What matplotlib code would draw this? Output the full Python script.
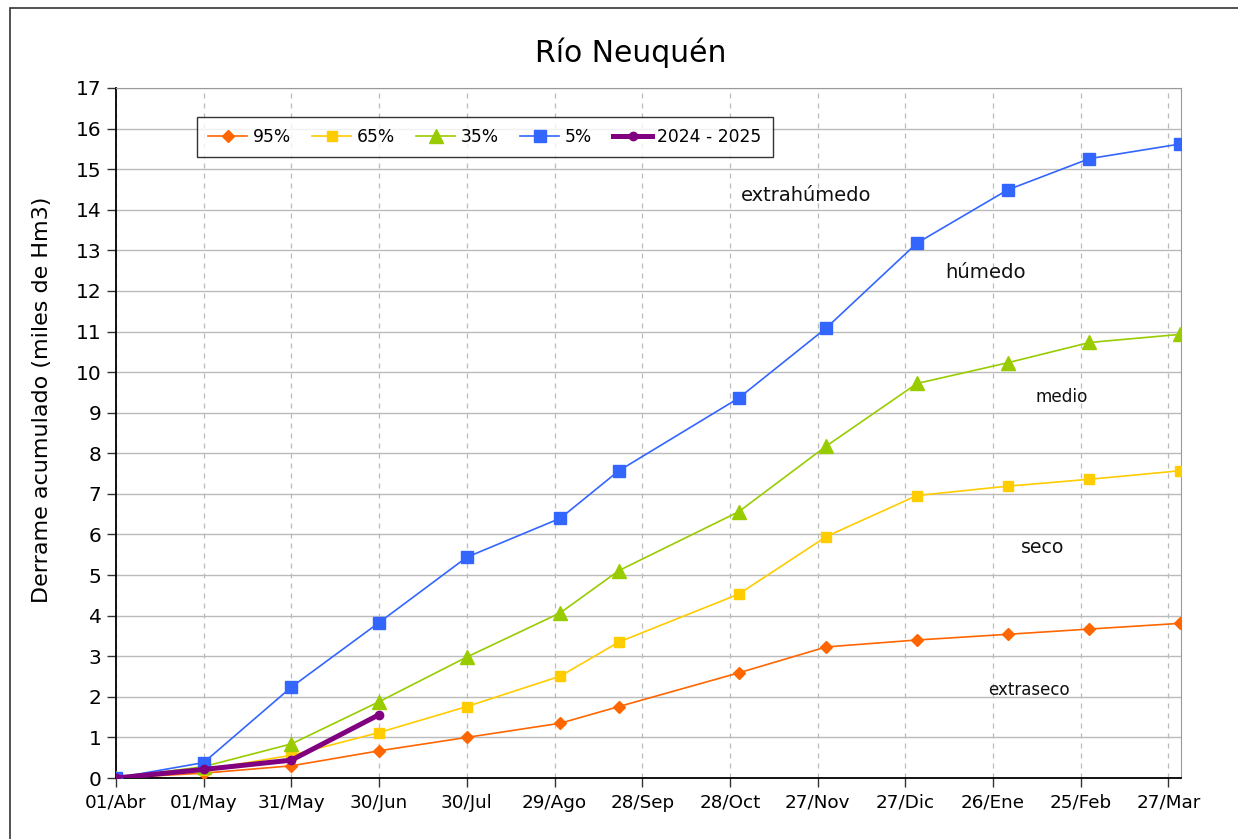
import matplotlib
matplotlib.use("Agg")
import matplotlib.pyplot as plt
from matplotlib.patches import Rectangle

# Day offsets (from 01/Abr) of each monthly reading
days = [0, 30, 60, 90, 120, 152, 172, 213, 243, 274, 305, 333, 364]

p95 = [0, 0.12, 0.30, 0.67, 1.00, 1.35, 1.76, 2.59, 3.23, 3.40, 3.54, 3.67, 3.81]
p65 = [0, 0.20, 0.56, 1.12, 1.76, 2.51, 3.35, 4.53, 5.95, 6.96, 7.19, 7.36, 7.57]
p35 = [0, 0.28, 0.84, 1.88, 2.98, 4.07, 5.11, 6.56, 8.18, 9.72, 10.23, 10.73, 10.93]
p05 = [0, 0.38, 2.24, 3.83, 5.44, 6.40, 7.57, 9.36, 11.09, 13.18, 14.49, 15.26, 15.62]

days_cur = [0, 30, 60, 90]
cur = [0, 0.21, 0.44, 1.56]

tick_days = [0, 30, 60, 90, 120, 150, 180, 210, 240, 270, 300, 330, 360]
tick_labels = ["01/Abr", "01/May", "31/May", "30/Jun", "30/Jul", "29/Ago", "28/Sep",
               "28/Oct", "27/Nov", "27/Dic", "26/Ene", "25/Feb", "27/Mar"]

zones = ["extrahúmedo", "húmedo", "medio", "seco", "extraseco"]
zone_x = [236, 297.6, 323.6, 317.1, 312.3]
zone_y = [14.36, 12.46, 9.39, 5.67, 2.17]
zone_size = [14, 14.2, 12.2, 13.6, 12]

plt.rcParams['font.family'] = ['DejaVu Sans']

W, H = 1238, 839
fig = plt.figure(figsize=(W / 100, H / 100), dpi=100)
ax = fig.add_axes([116 / W, 1 - 778 / H, (1181 - 116) / W, (778 - 88) / H])

# outer frame of the figure
fig.patches.append(Rectangle((10 / W, -0.5), 2, 0.5 + 1 - 8 / H,
                             transform=fig.transFigure, fill=False,
                             edgecolor="#333333", linewidth=1.2, zorder=0))

ax.plot(days, p95, color="#FF6600", lw=1.2, marker="D", ms=6.5, label="95%", zorder=3)
ax.plot(days, p65, color="#FFCC00", lw=1.2, marker="s", ms=6.5, label="65%", zorder=3)
ax.plot(days, p35, color="#99CC00", lw=1.2, marker="^", ms=9.5, label="35%", zorder=3)
ax.plot(days, p05, color="#3366FF", lw=1.2, marker="s", ms=8.3, label="5%", zorder=3)
ax.plot(days_cur, cur, color="#800080", lw=3.6, marker="o", ms=6, label="2024 - 2025", zorder=4)

ax.set_xlim(0, 364.3)
ax.set_ylim(0, 17)
ax.set_yticks(range(0, 18))
ax.set_xticks(tick_days)
ax.set_xticklabels(tick_labels)
ax.tick_params(axis="both", direction="out", length=6.5, width=1, color="#333333")
ax.tick_params(axis="x", labelsize=13.2, pad=5)
ax.tick_params(axis="y", labelsize=14.5, pad=4)

ax.grid(axis="y", color="#BBBBBB", lw=1, ls="-", zorder=0)
ax.grid(axis="x", color="#BBBBBB", lw=0.9, ls=(0, (4, 4)), zorder=0)

for side in ["top", "right"]:
    ax.spines[side].set_color("#999999")
for side in ["left", "bottom"]:
    ax.spines[side].set_color("black")
    ax.spines[side].set_linewidth(1.3)

fig.text(42 / W, 1 - 400 / H, "Derrame acumulado (miles de Hm3)", rotation=90,
         ha="center", va="center", fontsize=16)
fig.text(631 / W, 1 - 53 / H, "Río Neuquén", ha="center", va="center", fontsize=21.5)

for t, x, y, s in zip(zones, zone_x, zone_y, zone_size):
    ax.text(x, y, t, ha="center", va="center", fontsize=s, color="#111111")

leg = ax.legend(loc="upper left", bbox_to_anchor=((197 - 116) / 1065, 1 - (117 - 88) / 690),
                borderaxespad=0, ncol=5, fontsize=12.3, frameon=True, fancybox=False,
                edgecolor="black", handlelength=2.3, columnspacing=1.25, borderpad=0.65,
                handletextpad=0.3)
leg.get_frame().set_linewidth(1.0)

fig.savefig("out.png", dpi=100)
